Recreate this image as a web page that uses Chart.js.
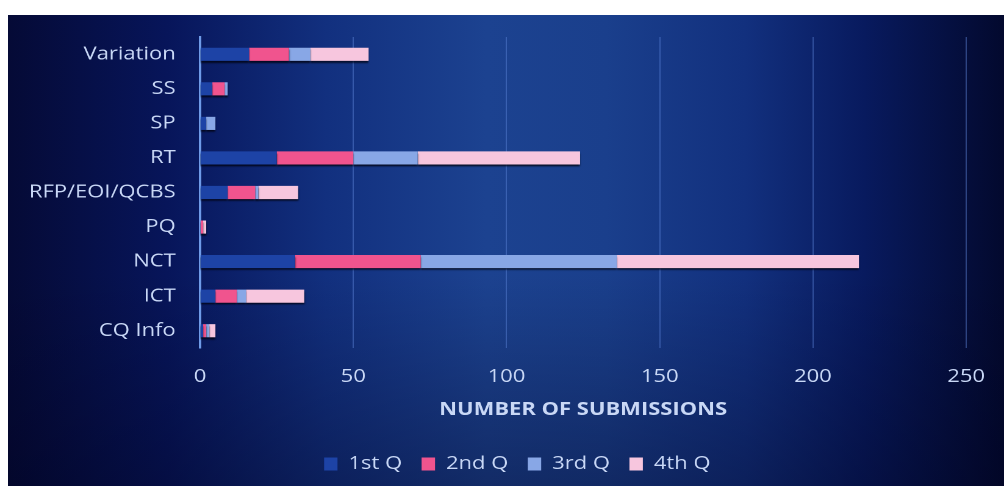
<!DOCTYPE html>
<html>
<head>
<meta charset="utf-8">
<script src="https://cdn.jsdelivr.net/npm/chart.js@4.4.1/dist/chart.umd.min.js"></script>
<style>
    html, body { margin: 0; padding: 0; background: #ffffff; overflow: hidden; }
    #fondo {
        position: absolute; left: 8px; top: 15px; width: 996px; height: 471px;
        background:
            linear-gradient(to bottom, rgba(0,0,20,0) 55%, rgba(0,0,25,0.35) 100%),
            linear-gradient(to right, #050a36 0%, #07155a 16%, #12307f 32%, #1c4290 48%, #1a3f8c 60%, #12307e 74%, #081a5e 86%, #03092e 100%);
    }
    /* la imagen original esta estirada en horizontal, se reproduce con scaleX */
    #wrap {
        position: absolute; left: 0; top: 0; width: 823px; height: 486px;
        transform: scaleX(1.21993); transform-origin: 0 0;
    }
</style>
</head>
<body>
<div id="fondo"></div>
<div id="wrap"><canvas id="ventasChart" width="823" height="486"></canvas></div>
<script>
/* ============================
   DATOS
============================ */
const CATEGORIAS = ["Variation", "SS", "SP", "RT", "RFP/EOI/QCBS", "PQ", "NCT", "ICT", "CQ Info"];
const Q1 = [16, 4, 2, 25, 9, 0, 31, 5, 1];
const Q2 = [13, 4, 0, 25, 9, 1, 41, 7, 1];
const Q3 = [7, 1, 3, 21, 1, 0, 64, 3, 1];
const Q4 = [19, 0, 0, 53, 13, 1, 79, 19, 2];
const SERIES = ["1st Q", "2nd Q", "3rd Q", "4th Q"];
const TICKS_X = [0, 50, 100, 150, 200, 250];
const TITULO_X = "NUMBER OF SUBMISSIONS";

const COLORES = ["#1d43a6", "#f0548e", "#88a7e6", "#f7c6de"];
const TEXTO = "#c9d8f6";
const FUENTE = "'Open Sans', sans-serif";

/* ============================
   PLUGINS
============================ */
const sombraBarras = {
    id: "sombraBarras",
    beforeDatasetsDraw(chart) {
        const ctx = chart.ctx;
        ctx.save();
        ctx.shadowColor = "rgba(0,0,10,0.75)";
        ctx.shadowBlur = 3;
        ctx.shadowOffsetX = 0;
        ctx.shadowOffsetY = 4;
    },
    afterDatasetsDraw(chart) {
        chart.ctx.restore();
    }
};

// la leyenda del original no esta centrada en el lienzo
const moverLeyenda = {
    id: "moverLeyenda",
    afterLayout(chart) {
        if (!chart.legend) return;
        chart.legend.left += 28;
        chart.legend.right += 28;
    }
};

/* ============================
   CHART
============================ */
const datos = [Q1, Q2, Q3, Q4];

new Chart(document.getElementById("ventasChart").getContext("2d"), {
    type: "bar",
    data: {
        labels: CATEGORIAS,
        datasets: SERIES.map((nombre, i) => ({
            label: nombre,
            data: datos[i],
            backgroundColor: COLORES[i],
            borderWidth: 0,
            barPercentage: 0.38,
            categoryPercentage: 1
        }))
    },
    options: {
        indexAxis: "y",
        responsive: false,
        animation: false,
        devicePixelRatio: 2,
        layout: { padding: { top: 37, left: 0, right: 31, bottom: 3 } },
        scales: {
            x: {
                stacked: true,
                min: TICKS_X[0],
                max: TICKS_X[TICKS_X.length - 1],
                // el padding de los ticks no debe empujar el borde derecho
                afterFit(scale) { scale.paddingRight = 16; },
                ticks: {
                    stepSize: TICKS_X[1] - TICKS_X[0],
                    color: TEXTO,
                    font: { family: FUENTE, size: 18, lineHeight: 1 },
                    padding: 20,
                    maxRotation: 0
                },
                grid: {
                    color: ctx => ctx.tick && ctx.tick.value === 0 ? "rgba(0,0,0,0)" : "rgba(95,135,220,0.45)",
                    lineWidth: 1,
                    drawTicks: false
                },
                border: { display: false },
                title: {
                    display: true,
                    text: TITULO_X,
                    color: TEXTO,
                    font: { family: FUENTE, size: 18, weight: "bold", lineHeight: 1 },
                    padding: { top: -5, bottom: 20 }
                }
            },
            y: {
                stacked: true,
                afterFit(scale) { scale.width = 164; },
                ticks: {
                    color: TEXTO,
                    font: { family: FUENTE, size: 18 },
                    padding: 20
                },
                grid: { display: false, drawTicks: false },
                border: { display: true, color: "#6f9be8", width: 2 }
            }
        },
        plugins: {
            legend: {
                position: "bottom",
                labels: {
                    color: TEXTO,
                    font: { family: FUENTE, size: 18 },
                    boxWidth: 11,
                    boxHeight: 13,
                    padding: 16
                }
            },
            tooltip: { enabled: false }
        }
    },
    plugins: [sombraBarras, moverLeyenda]
});
</script>
</body>
</html>
